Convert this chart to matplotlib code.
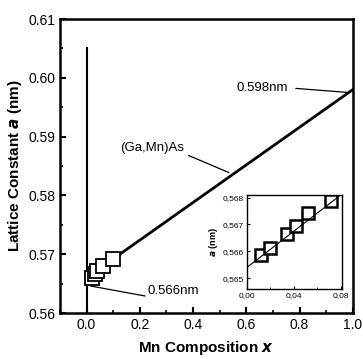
import matplotlib
matplotlib.use('Agg')
import matplotlib.pyplot as plt
from matplotlib.ticker import MultipleLocator, FuncFormatter

plt.rcParams['font.family'] = ['Liberation Sans', 'DejaVu Sans']

# main panel data
main_x = [0.019, 0.030, 0.041, 0.060, 0.098]
main_a = [0.5660, 0.5667, 0.5672, 0.5680, 0.5692]
vegard_x = [0.0, 1.0]
vegard_a = [0.566, 0.598]

# inset data
inset_x = [0.012, 0.020, 0.034, 0.042, 0.052, 0.072]
inset_a = [0.56585, 0.56614, 0.56663, 0.56694, 0.56741, 0.56786]
fit_x = [0.0, 0.08]
fit_a = [0.5654, 0.5681]

fig = plt.figure(figsize=(3.63, 3.59), dpi=100)
ax = fig.add_axes([0.165, 0.128, 0.807, 0.819])

ax.plot(vegard_x, vegard_a, color='k', lw=2, zorder=2)
ax.plot(main_x, main_a, 's', ms=10, mfc='white', mec='k', mew=1.3, zorder=3)
ax.plot([0, 0], [0.56, 0.605], color='k', lw=1.5)

ax.set_xlim(-0.1, 1.0)
ax.set_ylim(0.56, 0.61)
ax.xaxis.set_major_locator(MultipleLocator(0.2))
ax.xaxis.set_minor_locator(MultipleLocator(0.1))
ax.yaxis.set_major_locator(MultipleLocator(0.01))
ax.yaxis.set_minor_locator(MultipleLocator(0.005))
ax.xaxis.set_major_formatter(FuncFormatter(lambda v, p: '%.1f' % v))
ax.yaxis.set_major_formatter(FuncFormatter(lambda v, p: '%.2f' % v))
ax.tick_params(which='both', direction='in', top=False, right=False, labelsize=10)
ax.tick_params(which='major', length=4, width=1.5)
ax.tick_params(which='minor', length=2.5, width=1.2)
for s in ax.spines.values():
    s.set_linewidth(1.8)

ax.set_xlabel('Mn Composition $\\boldsymbol{x}$', fontsize=11, fontweight='bold', labelpad=5)
ax.set_ylabel('Lattice Constant $\\boldsymbol{a}$ (nm)', fontsize=11, fontweight='bold', labelpad=3)

arrow = dict(arrowstyle='-', color='k', lw=0.9, shrinkA=0, shrinkB=0)
ax.annotate('0.598nm', xy=(0.985, 0.5975), xytext=(0.66, 0.5982), fontsize=9.5,
            ha='center', va='center')
ax.annotate('', xy=(0.985, 0.5975), xytext=(0.786, 0.5982), arrowprops=arrow)
ax.annotate('(Ga,Mn)As', xy=(0.534, 0.5839), xytext=(0.248, 0.5880), fontsize=9.5,
            ha='center', va='center')
ax.annotate('', xy=(0.534, 0.5839), xytext=(0.383, 0.5868), arrowprops=arrow)
ax.annotate('0.566nm', xy=(0.015, 0.5646), xytext=(0.23, 0.5638), fontsize=9.5,
            ha='left', va='center')
ax.annotate('', xy=(0.015, 0.5646), xytext=(0.22, 0.5629), arrowprops=arrow)

# inset
ins = fig.add_axes([0.680, 0.195, 0.262, 0.262])
ins.plot(fit_x, fit_a, color='k', lw=0.8, zorder=4)
ins.plot(inset_x, inset_a, 's', ms=8, mfc='white', mec='k', mew=1.8, zorder=3)
ins.set_xlim(0.0, 0.081)
ins.set_ylim(0.5646, 0.5681)
ins.xaxis.set_major_locator(MultipleLocator(0.04))
ins.xaxis.set_minor_locator(MultipleLocator(0.02))
ins.yaxis.set_major_locator(MultipleLocator(0.001))
ins.xaxis.set_major_formatter(FuncFormatter(lambda v, p: ('%.2f' % v).replace('.', ',')))
ins.yaxis.set_major_formatter(FuncFormatter(lambda v, p: ('%.3f' % v).replace('.', ',')))
ins.tick_params(which='both', direction='in', labelsize=6, pad=2)
ins.tick_params(which='major', length=2.5)
ins.tick_params(which='minor', length=1.5)
for s in ins.spines.values():
    s.set_linewidth(1.0)
ins.set_ylabel('$\\boldsymbol{a}$ (nm)', fontsize=6.5, fontweight='bold', labelpad=2)

fig.savefig('out.png', dpi=100)
